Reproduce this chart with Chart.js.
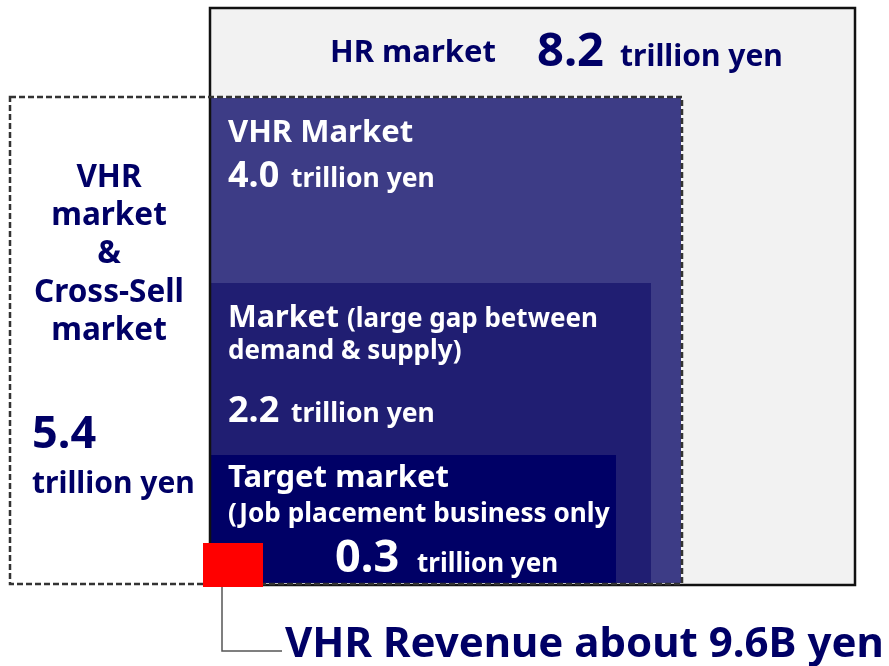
<!DOCTYPE html>
<html>
<head>
<meta charset="utf-8">
<script src="https://cdn.jsdelivr.net/npm/chart.js@4.4.1/dist/chart.umd.min.js"></script>
<style>
  html, body { margin: 0; padding: 0; background: #fff; }
  #wrap { width: 889px; height: 666px; }
</style>
</head>
<body>
<div id="wrap"><canvas id="c" width="889" height="666"></canvas></div>
<script>
// market sizes (trillion yen)
const markets = ['HR market', 'VHR market & Cross-Sell market', 'VHR Market', 'Market', 'Target market'];
const sizes = [8.2, 5.4, 4.0, 2.2, 0.3];
const unit = 'trillion yen';
const revenueB = 9.6;   // VHR revenue, billion yen

// layout of the nested boxes in chart units (x 0..889, y 0..666 top-down)
const BOX = {
  hr:     [210, 8, 855, 585],
  cross:  [10, 97, 682, 584],
  vhr:    [211, 98, 681, 583],
  market: [211, 283, 651, 583],
  target: [211, 455, 616, 583],
  rev:    [203, 543, 263, 587]
};
const NAVY = '#000066';
const FONT = '"Noto Sans", "DejaVu Sans", sans-serif';

function rect(chart, b) {
  const { x, y } = chart.scales;
  const x0 = x.getPixelForValue(b[0]), y0 = y.getPixelForValue(b[1]);
  const x1 = x.getPixelForValue(b[2]), y1 = y.getPixelForValue(b[3]);
  return [x0, y0, x1 - x0, y1 - y0];
}

function text(chart, s, px, py, size, color, align) {
  const ctx = chart.ctx;
  const { x, y } = chart.scales;
  ctx.font = `bold ${size}px ${FONT}`;
  ctx.fillStyle = color;
  ctx.textAlign = align || 'left';
  ctx.textBaseline = 'alphabetic';
  ctx.fillText(s, x.getPixelForValue(px), y.getPixelForValue(py));
}

const boxes = {
  id: 'boxes',
  beforeDatasetsDraw(chart) {
    const ctx = chart.ctx;
    ctx.save();
    // whole HR market
    let r = rect(chart, BOX.hr);
    ctx.fillStyle = '#f2f2f2';
    ctx.fillRect(...r);
    // nested markets
    ctx.fillStyle = '#3d3c86';
    ctx.fillRect(...rect(chart, BOX.vhr));
    ctx.fillStyle = '#201e72';
    ctx.fillRect(...rect(chart, BOX.market));
    ctx.fillStyle = NAVY;
    ctx.fillRect(...rect(chart, BOX.target));
    ctx.lineWidth = 2.5;
    ctx.strokeStyle = '#111';
    ctx.strokeRect(...r);
    // VHR + cross-sell dashed outline
    ctx.setLineDash([6, 3]);
    ctx.lineWidth = 2.5;
    ctx.strokeStyle = '#333';
    ctx.strokeRect(...rect(chart, BOX.cross));
    ctx.setLineDash([]);
    // revenue marker + leader line
    const { x, y } = chart.scales;
    ctx.strokeStyle = '#555';
    ctx.lineWidth = 1.5;
    ctx.beginPath();
    ctx.moveTo(x.getPixelForValue(222), y.getPixelForValue(587));
    ctx.lineTo(x.getPixelForValue(222), y.getPixelForValue(651));
    ctx.lineTo(x.getPixelForValue(282), y.getPixelForValue(651));
    ctx.stroke();
    ctx.fillStyle = '#ff0000';
    ctx.fillRect(...rect(chart, BOX.rev));
    ctx.restore();
  },
  afterDraw(chart) {
    const ctx = chart.ctx;
    ctx.save();
    const W = '#ffffff';
    const v = i => sizes[i].toFixed(1);
    // HR market
    text(chart, markets[0], 330, 62, 31, NAVY);
    text(chart, v(0), 537, 66, 47, NAVY);
    text(chart, unit, 620, 66, 30, NAVY);
    // VHR market & cross-sell (left)
    ['VHR', 'market', '&', 'Cross-Sell', 'market'].forEach((s, i) =>
      text(chart, s, 109, [187, 225, 263, 302, 340][i], 31.5, NAVY, 'center'));
    text(chart, v(1), 32, 448, 45, NAVY);
    text(chart, unit, 32, 493, 30, NAVY);
    // VHR market
    text(chart, markets[2], 228, 142, 31, W);
    text(chart, v(2), 228, 187, 36, W);
    text(chart, unit, 291, 187, 26.5, W);
    // market with demand/supply gap
    text(chart, markets[3], 228, 327, 30.5, W);
    text(chart, '(large gap between', 347, 327, 26, W);
    text(chart, 'demand & supply)', 228, 359, 26, W);
    text(chart, v(3), 228, 422, 36, W);
    text(chart, unit, 291, 422, 26.5, W);
    // target market
    text(chart, markets[4], 228, 487, 31, W);
    text(chart, '(Job placement business only', 228, 522, 26.2, W);
    text(chart, v(4), 335, 572, 45, W);
    text(chart, unit, 417, 572, 26, W);
    // revenue
    text(chart, `VHR Revenue about ${revenueB}B yen`, 285, 657, 42, NAVY);
    ctx.restore();
  }
};

new Chart(document.getElementById('c'), {
  type: 'scatter',
  data: { datasets: [{ data: [] }] },
  options: {
    responsive: false,
    animation: false,
    layout: { padding: 0 },
    plugins: { legend: { display: false }, tooltip: { enabled: false } },
    scales: {
      x: { type: 'linear', min: 0, max: 889, display: false },
      y: { type: 'linear', min: 0, max: 666, reverse: true, display: false }
    }
  },
  plugins: [boxes]
});
</script>
</body>
</html>
